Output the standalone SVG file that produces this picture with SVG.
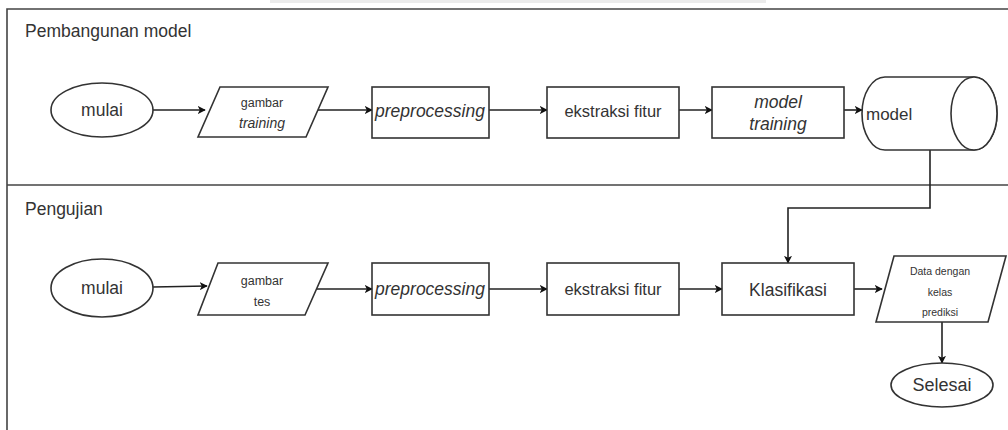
<svg xmlns="http://www.w3.org/2000/svg" width="1008" height="430" viewBox="0 0 1008 430">
<style>
.shape{fill:#fff;stroke:#333;stroke-width:1.6}
.edge{fill:none;stroke:#222;stroke-width:1.6}
.lane{fill:none;stroke:#444;stroke-width:1.6}
text{font-family:"Liberation Sans",Arial,sans-serif;fill:#333;text-anchor:middle}
.title{text-anchor:start;font-size:17.5px}
.it{font-style:italic}
</style>
<defs>
<marker id="arr" viewBox="0 0 10 10" refX="9" refY="5" markerWidth="8" markerHeight="8" markerUnits="userSpaceOnUse" orient="auto">
<path d="M0,0 L10,5 L0,10 L2.5,5 Z" fill="#111"/>
</marker>
</defs>
<rect x="0" y="0" width="1008" height="430" fill="#fff"/>
<rect x="270" y="0" width="496" height="3" fill="#ebebeb"/>
<g id="lanes">
<path class="lane" d="M7,430 V9 H1008"/>
<line class="lane" x1="7" y1="185" x2="1008" y2="185"/>
<text class="title" x="25" y="37">Pembangunan model</text>
<text class="title" x="25" y="215">Pengujian</text>
</g>
<g id="connectors">
<line class="edge" x1="153" y1="110" x2="205" y2="110" marker-end="url(#arr)"/>
<line class="edge" x1="317" y1="110" x2="372" y2="110" marker-end="url(#arr)"/>
<line class="edge" x1="489" y1="110" x2="547" y2="110" marker-end="url(#arr)"/>
<line class="edge" x1="679" y1="110" x2="712" y2="110" marker-end="url(#arr)"/>
<line class="edge" x1="844" y1="110" x2="862" y2="110" marker-end="url(#arr)"/>
<path class="edge" d="M930,150 V208 H788 V263" marker-end="url(#arr)"/>
<line class="edge" x1="153" y1="287" x2="207" y2="286" marker-end="url(#arr)"/>
<line class="edge" x1="317" y1="289" x2="372" y2="289" marker-end="url(#arr)"/>
<line class="edge" x1="489" y1="289" x2="547" y2="289" marker-end="url(#arr)"/>
<line class="edge" x1="679" y1="289" x2="722" y2="289" marker-end="url(#arr)"/>
<line class="edge" x1="854" y1="289" x2="882" y2="289" marker-end="url(#arr)"/>
<line class="edge" x1="942" y1="322" x2="942" y2="363" marker-end="url(#arr)"/>
</g>
<g id="mulai1">
<ellipse class="shape" cx="102" cy="110" rx="51" ry="27"/>
<text x="102" y="116" font-size="17.5">mulai</text>
</g>
<g id="gambar-training">
<polygon class="shape" points="220,87 328,87 306,137 198,137"/>
<text x="262" y="107" font-size="12.5">gambar</text>
<text x="262" y="128" font-size="14" class="it">training</text>
</g>
<g id="preprocessing1">
<rect class="shape" x="372" y="87" width="117" height="51"/>
<text x="430" y="117" font-size="17.5" class="it">preprocessing</text>
</g>
<g id="ekstraksi1">
<rect class="shape" x="547" y="87" width="132" height="51"/>
<text x="613" y="117" font-size="16.5">ekstraksi fitur</text>
</g>
<g id="model-training">
<rect class="shape" x="712" y="87" width="132" height="51"/>
<text x="778" y="108" font-size="17.5" class="it">model</text>
<text x="778" y="130" font-size="17.5" class="it">training</text>
</g>
<g id="model">
<path class="shape" d="M885,77 H974 A23,36.5 0 0 1 974,150 H885 A23,36.5 0 0 1 885,77 Z"/>
<ellipse class="shape" cx="974" cy="113.5" rx="23" ry="36.5"/>
<text x="866" y="120" font-size="17" style="text-anchor:start">model</text>
</g>
<g id="mulai2">
<ellipse class="shape" cx="102" cy="288" rx="51" ry="29"/>
<text x="102" y="294" font-size="17.5">mulai</text>
</g>
<g id="gambar-tes">
<polygon class="shape" points="218,263 328,263 305,315 198,315"/>
<text x="262" y="285" font-size="12.5">gambar</text>
<text x="262" y="306" font-size="12.5">tes</text>
</g>
<g id="preprocessing2">
<rect class="shape" x="372" y="263" width="117" height="52"/>
<text x="430" y="295" font-size="17.5" class="it">preprocessing</text>
</g>
<g id="ekstraksi2">
<rect class="shape" x="547" y="263" width="132" height="52"/>
<text x="613" y="295" font-size="16.5">ekstraksi fitur</text>
</g>
<g id="klasifikasi">
<rect class="shape" x="722" y="263" width="132" height="52"/>
<text x="788" y="296" font-size="17.5">Klasifikasi</text>
</g>
<g id="data-prediksi">
<polygon class="shape" points="894,256 1006,256 988,322 876,322"/>
<text x="940" y="275" font-size="10.5">Data dengan</text>
<text x="940" y="296" font-size="10.5">kelas</text>
<text x="940" y="316" font-size="10.5">prediksi</text>
</g>
<g id="selesai">
<ellipse class="shape" cx="942" cy="385" rx="51" ry="22"/>
<text x="942" y="391" font-size="18">Selesai</text>
</g>
</svg>
